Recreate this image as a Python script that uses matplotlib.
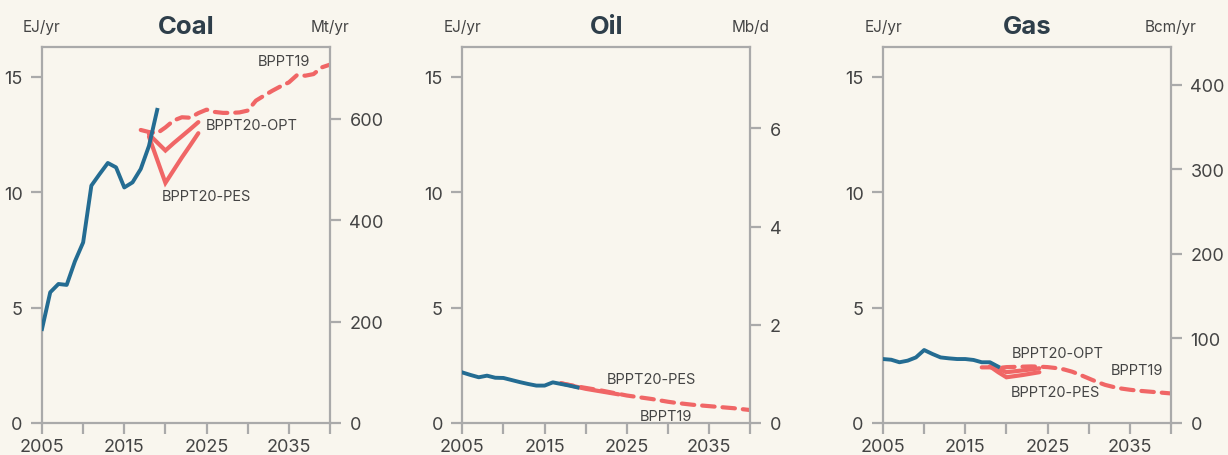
import matplotlib.pyplot as plt

plt.rcParams['font.family'] = ['Inter', 'DejaVu Sans']

BG = '#f9f6ee'
BLUE = '#246c92'
RED = '#f06666'
GREY = '#aaaaaa'
TXT = '#444444'

# historical data (EJ/yr)
hist_years = list(range(2005, 2020))
coal_hist = [4.07, 5.66, 6.02, 5.98, 7.0, 7.82, 10.28, 10.78, 11.26, 11.07, 10.2, 10.42, 11.0, 12.0, 13.56]
oil_hist = [2.19, 2.08, 1.98, 2.05, 1.96, 1.95, 1.86, 1.77, 1.69, 1.62, 1.62, 1.76, 1.69, 1.62, 1.54]
gas_hist = [2.77, 2.74, 2.63, 2.70, 2.84, 3.16, 2.99, 2.84, 2.80, 2.77, 2.77, 2.73, 2.63, 2.63, 2.44]

# BPPT19 outlook
b19_years = list(range(2017, 2041))
coal_b19 = [12.69, 12.6, 12.55, 12.8, 13.1, 13.24, 13.22, 13.42, 13.57, 13.47, 13.43, 13.43, 13.45, 13.53,
            13.96, 14.18, 14.39, 14.58, 14.75, 15.07, 15.04, 15.11, 15.4, 15.52]
oil_b19 = [1.72, 1.65, 1.58, 1.52, 1.46, 1.40, 1.33, 1.26, 1.19, 1.14, 1.09, 1.04, 0.98, 0.92,
           0.87, 0.83, 0.79, 0.76, 0.73, 0.70, 0.67, 0.64, 0.60, 0.56]
gas_b19 = [2.41, 2.41, 2.38, 2.42, 2.43, 2.44, 2.45, 2.44, 2.42, 2.38, 2.32, 2.22, 2.08, 1.93,
           1.78, 1.65, 1.56, 1.49, 1.44, 1.40, 1.37, 1.34, 1.31, 1.28]

# BPPT20 scenarios
b20_years = list(range(2018, 2025))
coal_opt = [12.5, 12.15, 11.8, 12.12, 12.42, 12.72, 13.03]
coal_pes = [12.4, 11.4, 10.4, 10.95, 11.5, 12.02, 12.55]
gas_opt = [2.45, 2.35, 2.2, 2.24, 2.28, 2.32, 2.37]
gas_pes = [2.45, 2.2, 1.98, 2.03, 2.08, 2.14, 2.2]
oil_pes_years = list(range(2017, 2025))
oil_pes = [1.72, 1.64, 1.56, 1.48, 1.42, 1.36, 1.30, 1.24]

YMAX = 16.27

panels = [
    dict(title='Coal', unit='Mt/yr', hist=coal_hist, b19=coal_b19,
         scen=[(b20_years, coal_opt), (b20_years, coal_pes)],
         rmax=741.5, rticks=[0, 200, 400, 600], left=42,
         labels=[('BPPT19', 2031.2, 15.68), ('BPPT20-OPT', 2024.9, 12.9), ('BPPT20-PES', 2019.6, 9.85)]),
    dict(title='Oil', unit='Mb/d', hist=oil_hist, b19=oil_b19,
         scen=[(oil_pes_years, oil_pes)],
         rmax=7.65, rticks=[0, 2, 4, 6], left=462.3,
         labels=[('BPPT20-PES', 2022.6, 1.9), ('BPPT19', 2026.6, 0.32)]),
    dict(title='Gas', unit='Bcm/yr', hist=gas_hist, b19=gas_b19,
         scen=[(b20_years, gas_opt), (b20_years, gas_pes)],
         rmax=444.6, rticks=[0, 100, 200, 300, 400], left=883,
         labels=[('BPPT20-OPT', 2020.7, 3.02), ('BPPT19', 2032.7, 2.3), ('BPPT20-PES', 2020.5, 1.33)]),
]

fig = plt.figure(figsize=(12.28, 4.56), dpi=100, facecolor=BG)

for p in panels:
    ax = fig.add_axes([p['left'] / 1228, 1 - 424 / 456, 288 / 1228, (424 - 48.3) / 456])
    ax.set_facecolor(BG)

    ax.plot(b19_years, p['b19'], color=RED, lw=3, ls=(0, (3.0, 1.9)), solid_capstyle='round',
            dash_capstyle='round', zorder=2)
    for yrs, vals in p['scen']:
        ax.plot(yrs, vals, color=RED, lw=3, solid_capstyle='round', solid_joinstyle='miter', zorder=3)
    ax.plot(hist_years, p['hist'], color=BLUE, lw=2.8, zorder=4)

    for txt, x, y in p['labels']:
        ax.text(x, y, txt, fontsize=10.5, color=TXT, ha='left', va='center')

    ax.set_xlim(2005, 2040)
    ax.set_ylim(0, YMAX)
    ax.set_xticks(range(2005, 2041, 5))
    ax.set_xticklabels(['2005', '', '2015', '', '2025', '', '2035', ''])
    ax.set_yticks([0, 5, 10, 15])

    for s in ax.spines.values():
        s.set_color(GREY)
        s.set_linewidth(1.6)
    ax.tick_params(axis='both', colors=GREY, labelcolor=TXT, labelsize=13,
                   length=8, width=1.6, pad=6)
    ax.tick_params(axis='x', pad=3)

    ax2 = ax.twinx()
    ax2.set_ylim(0, p['rmax'])
    ax2.set_yticks(p['rticks'])
    for s in ax2.spines.values():
        s.set_visible(False)
    ax2.tick_params(axis='y', colors=GREY, labelcolor=TXT, labelsize=13,
                    length=8, width=1.6, pad=6)

    ax.set_title(p['title'], fontsize=18.5, fontweight='bold', color='#2e3e4a', pad=10)
    ax.text(0, 1.055, 'EJ/yr', transform=ax.transAxes, ha='center', va='center',
            fontsize=11, color=TXT)
    ax.text(1, 1.055, p['unit'], transform=ax.transAxes, ha='center', va='center',
            fontsize=11, color=TXT)

fig.savefig('out.png', dpi=100, facecolor=BG)
